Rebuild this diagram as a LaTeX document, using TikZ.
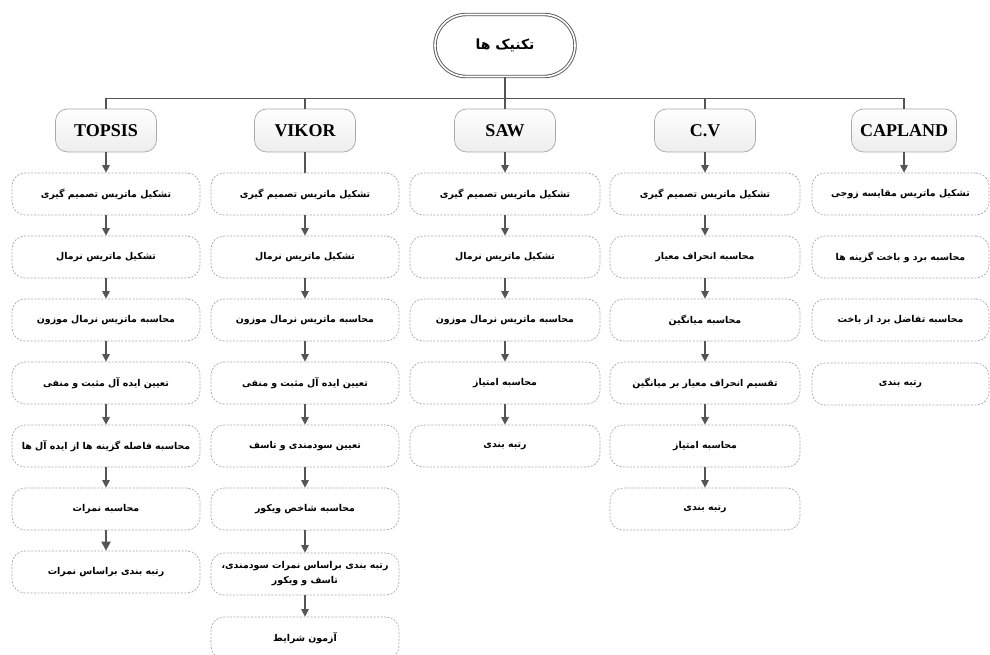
\documentclass[tikz,border=0pt]{standalone}
\usepackage{fontspec}
\setmainfont{Liberation Serif}
\newfontfamily\fa[Script=Arabic]{DejaVu Sans}
\TeXXeTstate=1
\usetikzlibrary{arrows.meta,shapes.misc}
\newcommand{\RL}[1]{\beginR #1\endR}
\definecolor{lnc}{HTML}{555555}
\definecolor{bdc}{HTML}{A8A8A8}
\begin{document}
\begin{tikzpicture}[x=1pt,y=-1pt,
  topbox/.style={rounded rectangle, draw=lnc, double=white, double distance=1.6pt, line width=0.9pt,
    fill=white, minimum width=140pt, minimum height=62pt, inner sep=0pt,
    font=\fa\bfseries\fontsize{14}{16}\selectfont},
  hdr/.style={rectangle, rounded corners=12pt, draw=bdc, line width=0.7pt, top color=white, bottom color=gray!14,
    minimum width=101pt, minimum height=43pt, inner sep=2pt,
    font=\bfseries\fontsize{18}{20}\selectfont},
  stepbox/.style={rectangle, rounded corners=13pt, draw=bdc, dash pattern=on 2pt off 1.5pt, line width=0.7pt,
    fill=white, minimum width=188pt, minimum height=42pt, inner sep=2pt, align=center,
    font=\fa\bfseries\fontsize{9.4}{15}\selectfont},
  conn/.style={draw=lnc, line width=1.1pt},
  arr/.style={conn, -{Triangle[length=7.5pt,width=7.5pt]}},
  arrb/.style={draw=lnc, line width=2pt, -{Triangle[length=9pt,width=9pt]}}
]
\useasboundingbox (0,0) rectangle (990,655);
\clip (0,0) rectangle (990,655);

\node[topbox] (top) at (505,45.5) {\RL{تکنیک ها}};

\node[hdr] (h1) at (106,130.5) {TOPSIS};
\node[hdr] (h2) at (305,130.5) {VIKOR};
\node[hdr] (h3) at (505,130.5) {SAW};
\node[hdr] (h4) at (705,130.5) {C.V};
\node[hdr, minimum width=105pt] (h5) at (904,130.5) {CAPLAND};

% TOPSIS
\node[stepbox] (t1) at (106,194) {\RL{تشکیل ماتریس تصمیم گیری}};
\node[stepbox] (t2) at (106,257) {\RL{تشکیل ماتریس نرمال}};
\node[stepbox] (t3) at (106,320) {\RL{محاسبه ماتریس نرمال موزون}};
\node[stepbox] (t4) at (106,383) {\RL{تعیین ایده آل مثبت و منفی}};
\node[stepbox] (t5) at (106,446) {\RL{محاسبه فاصله گزینه ها از ایده آل ها}};
\node[stepbox] (t6) at (106,509) {\RL{محاسبه نمرات}};
\node[stepbox] (t7) at (106,572) {\RL{رتبه بندی براساس نمرات}};

% VIKOR
\node[stepbox] (v1) at (305,194) {\RL{تشکیل ماتریس تصمیم گیری}};
\node[stepbox] (v2) at (305,257) {\RL{تشکیل ماتریس نرمال}};
\node[stepbox] (v3) at (305,320) {\RL{محاسبه ماتریس نرمال موزون}};
\node[stepbox] (v4) at (305,383) {\RL{تعیین ایده آل مثبت و منفی}};
\node[stepbox] (v5) at (305,446) {\RL{تعیین سودمندی و تاسف}};
\node[stepbox] (v6) at (305,509) {\RL{محاسبه شاخص ویکور}};
\node[stepbox] (v7) at (305,574) {\RL{رتبه بندی براساس نمرات سودمندی،}\\\RL{تاسف و ویکور}};
\node[stepbox] (v8) at (305,638) {\RL{آزمون شرایط}};

% SAW
\node[stepbox, minimum width=190pt] (s1) at (505,194) {\RL{تشکیل ماتریس تصمیم گیری}};
\node[stepbox, minimum width=190pt] (s2) at (505,257) {\RL{تشکیل ماتریس نرمال}};
\node[stepbox, minimum width=190pt] (s3) at (505,320) {\RL{محاسبه ماتریس نرمال موزون}};
\node[stepbox, minimum width=190pt] (s4) at (505,383) {\RL{محاسبه امتیاز}};
\node[stepbox, minimum width=190pt] (s5) at (505,446) {\RL{رتبه بندی}};

% C.V
\node[stepbox, minimum width=190pt] (c1) at (705,194) {\RL{تشکیل ماتریس تصمیم گیری}};
\node[stepbox, minimum width=190pt] (c2) at (705,257) {\RL{محاسبه انحراف معیار}};
\node[stepbox, minimum width=190pt] (c3) at (705,320) {\RL{محاسبه میانگین}};
\node[stepbox, minimum width=190pt] (c4) at (705,383) {\RL{تقسیم انحراف معیار بر میانگین}};
\node[stepbox, minimum width=190pt] (c5) at (705,446) {\RL{محاسبه امتیاز}};
\node[stepbox, minimum width=190pt] (c6) at (705,509) {\RL{رتبه بندی}};

% CAPLAND
\node[stepbox, minimum width=177pt] (k1) at (900.5,194) {\RL{تشکیل ماتریس مقایسه زوجی}};
\node[stepbox, minimum width=177pt] (k2) at (900.5,257) {\RL{محاسبه برد و باخت گزینه ها}};
\node[stepbox, minimum width=177pt] (k3) at (900.5,320) {\RL{محاسبه تفاضل برد از باخت}};
\node[stepbox, minimum width=177pt] (k4) at (900.5,384) {\RL{رتبه بندی}};

% bus
\draw[conn] (h1.north) -- ++(0,-10) coordinate (j1) -| (h5.north);
\foreach \h in {h2,h3,h4} \draw[conn] (\h.north) -- (\h.north |- j1);
\draw[conn] (top.south) -- (top.south |- j1);

% header to first step
\draw[arr] (h1) -- (t1);
\draw[conn] (h2) -- (v1);
\draw[arr] (h3) -- (s1);
\draw[arr] (h4) -- (c1);
\draw[arr] (h5.south) -- (h5.south |- k1.north);

% TOPSIS chain
\draw[arr] (t1) -- (t2);
\draw[arr] (t2) -- (t3);
\draw[arr] (t3) -- (t4);
\draw[arr] (t4) -- (t5);
\draw[arr] (t5) -- (t6);
\draw[arrb] (t6) -- (t7);

% VIKOR chain
\draw[arr] (v1) -- (v2);
\draw[arr] (v2) -- (v3);
\draw[arr] (v3) -- (v4);
\draw[arr] (v4) -- (v5);
\draw[arr] (v5) -- (v6);
\draw[arr] (v6) -- (v7);
\draw[arr] (v7) -- (v8);

% SAW chain
\draw[arr] (s1) -- (s2);
\draw[arr] (s2) -- (s3);
\draw[arr] (s3) -- (s4);
\draw[arr] (s4) -- (s5);

% C.V chain
\draw[arr] (c1) -- (c2);
\draw[arr] (c2) -- (c3);
\draw[arr] (c3) -- (c4);
\draw[arr] (c4) -- (c5);
\draw[arr] (c5) -- (c6);
\end{tikzpicture}
\end{document}
